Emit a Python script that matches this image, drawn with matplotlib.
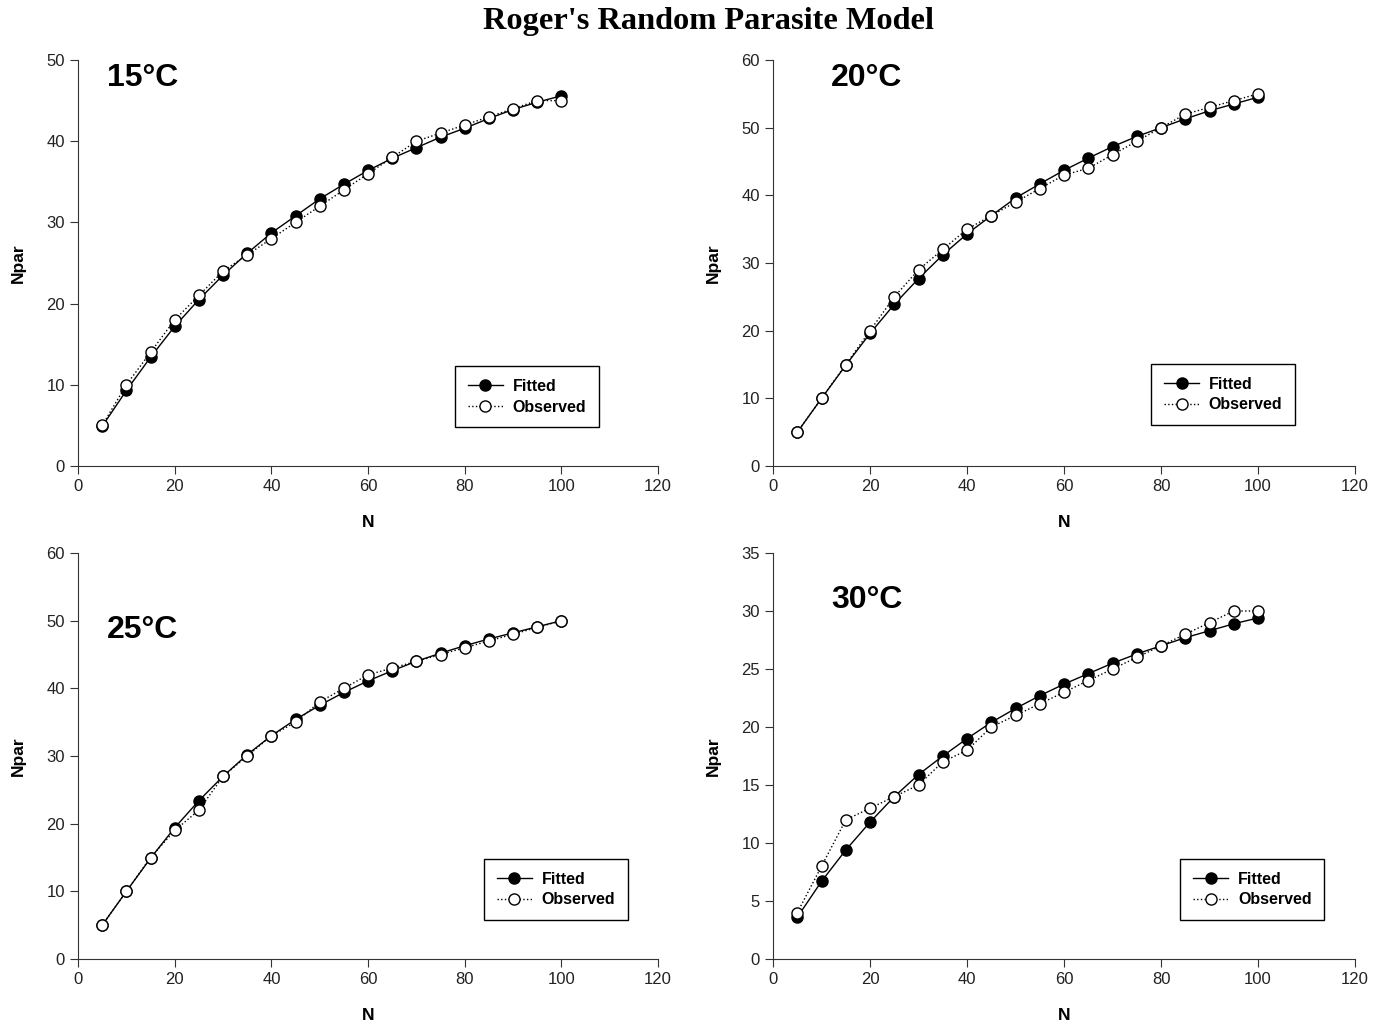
import numpy as np
import matplotlib
matplotlib.use("Agg")
import matplotlib.pyplot as plt

plt.rcParams['font.family'] = ['Liberation Sans', 'DejaVu Sans']

# data
n_vals = [5, 10, 15, 20, 25, 30, 35, 40, 45, 50, 55, 60, 65, 70, 75, 80, 85, 90, 95, 100]

fit_15 = [4.9, 9.3, 13.4, 17.2, 20.5, 23.5, 26.2, 28.7, 30.8, 32.9,
          34.7, 36.4, 37.9, 39.2, 40.5, 41.6, 42.8, 43.9, 44.8, 45.6]
obs_15 = [5, 10, 14, 18, 21, 24, 26, 28, 30, 32,
          34, 36, 38, 40, 41, 42, 43, 44, 45, 45]

fit_20 = [5, 10, 14.9, 19.6, 23.9, 27.7, 31.2, 34.3, 37.0, 39.6,
          41.7, 43.7, 45.5, 47.2, 48.7, 50.0, 51.3, 52.5, 53.5, 54.5]
obs_20 = [5, 10, 15, 20, 25, 29, 32, 35, 37, 39,
          41, 43, 44, 46, 48, 50, 52, 53, 54, 55]

fit_25 = [5, 10, 14.9, 19.4, 23.4, 27.0, 30.2, 33.0, 35.4, 37.5,
          39.4, 41.1, 42.6, 44.0, 45.2, 46.3, 47.3, 48.2, 49.1, 50.0]
obs_25 = [5, 10, 15, 19, 22, 27, 30, 33, 35, 38,
          40, 42, 43, 44, 45, 46, 47, 48, 49, 50]

fit_30 = [3.6, 6.7, 9.4, 11.8, 14.0, 15.9, 17.5, 19.0, 20.4, 21.6,
          22.7, 23.7, 24.6, 25.5, 26.3, 27.0, 27.7, 28.3, 28.9, 29.4]
obs_30 = [4, 8, 12, 13, 14, 15, 17, 18, 20, 21,
          22, 23, 24, 25, 26, 27, 28, 29, 30, 30]

temps = ["15°C", "20°C", "25°C", "30°C"]
y_max = [50, 60, 60, 35]
y_step = [10, 10, 10, 5]

fig = plt.figure(figsize=(13.79, 10.26), dpi=100)

# axes boxes (left, bottom, width, height) in figure fraction
boxes = [(0.0566, 0.5458, 0.4206, 0.3957),
         (0.5606, 0.5458, 0.4220, 0.3957),
         (0.0566, 0.0653, 0.4206, 0.3957),
         (0.5606, 0.0653, 0.4220, 0.3957)]
label_pos = [(0.05, 0.955), (0.10, 0.955), (0.05, 0.81), (0.10, 0.884)]
legend_pos = [(0.65, 0.246), (0.65, 0.251), (0.70, 0.246), (0.70, 0.246)]

fits = [fit_15, fit_20, fit_25, fit_30]
obss = [obs_15, obs_20, obs_25, obs_30]

for i in range(4):
    ax = fig.add_axes(boxes[i])
    ax.plot(n_vals, fits[i], color='black', lw=1, marker='o', ms=8,
            mfc='black', mec='black', label='Fitted', zorder=3)
    ax.plot(n_vals, obss[i], color='black', lw=1, ls=':', marker='o', ms=8,
            mfc='white', mec='black', label='Observed', zorder=4)

    ax.set_xlim(0, 120)
    ax.set_ylim(0, y_max[i])
    ax.set_xticks(np.arange(0, 121, 20))
    ax.set_yticks(np.arange(0, y_max[i] + 1, y_step[i]))
    ax.spines['top'].set_visible(False)
    ax.spines['right'].set_visible(False)
    for s in ('left', 'bottom'):
        ax.spines[s].set_color('#333333')
    ax.tick_params(direction='out', length=6, labelsize=12, colors='#333333',
                   labelcolor='#222222')
    ax.set_xlabel('N', fontsize=12.5, fontweight='bold', labelpad=15)
    ax.set_ylabel('Npar', fontsize=12.5, fontweight='bold', labelpad=15)

    ax.text(label_pos[i][0], label_pos[i][1], temps[i], transform=ax.transAxes,
            fontsize=23, fontweight='bold', va='center', ha='left')

    leg = ax.legend(loc='upper left', bbox_to_anchor=legend_pos[i], borderaxespad=0,
                    frameon=True, fancybox=False, edgecolor='black', framealpha=1,
                    prop={'weight': 'bold', 'size': 11.5}, handlelength=2.2,
                    borderpad=0.8, labelspacing=0.35, handletextpad=0.6)
    leg.get_frame().set_linewidth(1)

fig.text(0.514, 0.979, "Roger's Random Parasite Model", ha='center', va='center',
         fontsize=23.3, fontweight='bold', family=['Liberation Serif', 'DejaVu Serif'])

fig.savefig('out.png', dpi=100)
